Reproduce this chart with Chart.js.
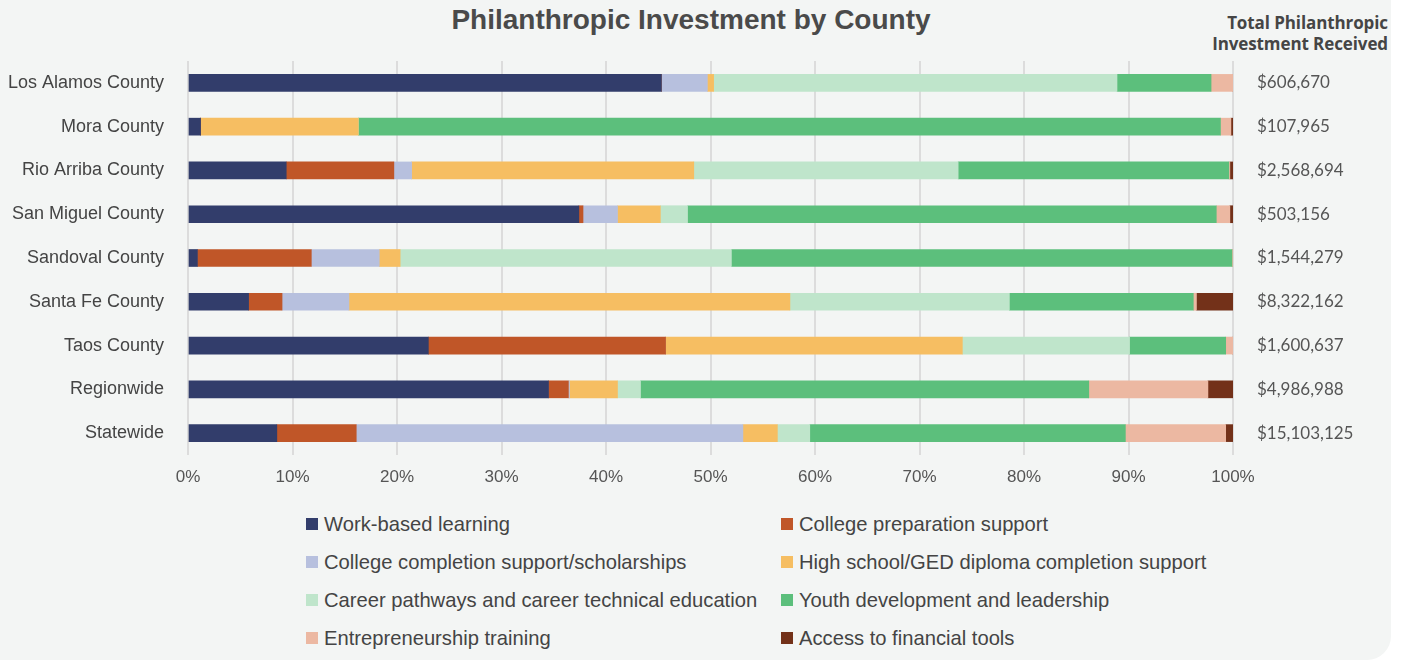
<!DOCTYPE html>
<html>
<head>
<meta charset="utf-8">
<script src="https://cdn.jsdelivr.net/npm/chart.js@4"></script>
<style>
  html, body { margin: 0; padding: 0; background: #ffffff; width: 1403px; height: 660px; overflow: hidden; }
  #panel { position: absolute; left: 0; top: 0; width: 1391px; height: 660px; background: #f3f5f4; border-bottom-right-radius: 24px; }
  #title { position: absolute; left: 0; width: 1382px; top: 0; text-align: center; font: bold 28px "Liberation Sans", Arial, sans-serif; color: #4a4a4a; line-height: 40px; }
  #header { position: absolute; right: 15px; top: 12px; text-align: right; font: bold 17px "Open Sans", sans-serif; color: #454545; line-height: 21px; letter-spacing: -0.1px; }
  #chartwrap { position: absolute; left: 0; top: 0; width: 1403px; height: 500px; }
  #legend { position: absolute; left: 306px; top: 505px; display: grid; grid-template-columns: 475px 475px; grid-auto-rows: 38px; }
  .li { display: flex; align-items: center; font: 20.2px "Liberation Sans", Arial, sans-serif; color: #444; white-space: nowrap; }
  .sw { width: 12px; height: 12px; margin-right: 6px; flex: none; }
</style>
</head>
<body>
<div id="panel"></div>
<div id="title">Philanthropic Investment by County</div>
<div id="header">Total Philanthropic<br>Investment Received</div>
<div id="chartwrap"><canvas id="c" width="1403" height="500"></canvas></div>
<div id="legend"></div>
<script>
const categories = ["Los Alamos County", "Mora County", "Rio Arriba County", "San Miguel County", "Sandoval County", "Santa Fe County", "Taos County", "Regionwide", "Statewide"];
const totals = ["$606,670", "$107,965", "$2,568,694", "$503,156", "$1,544,279", "$8,322,162", "$1,600,637", "$4,986,988", "$15,103,125"];
const tickValues = [0, 10, 20, 30, 40, 50, 60, 70, 80, 90, 100];

const seriesNames = ["Work-based learning", "College preparation support", "College completion support/scholarships", "High school/GED diploma completion support", "Career pathways and career technical education", "Youth development and leadership", "Entrepreneurship training", "Access to financial tools"];
const seriesColors = ["#323d6b", "#c05628", "#b7c0de", "#f6be62", "#bfe5cb", "#5cbf7c", "#ecb8a2", "#733119"];

const workBased       = [45.3, 1.2,  9.4, 37.4,  0.9,  5.8, 23.0, 34.5,  8.5];
const collegePrep     = [ 0.0, 0.0, 10.3,  0.4, 10.9,  3.2, 22.7,  1.9,  7.6];
const collegeComplete = [ 4.4, 0.0,  1.7,  3.3,  6.5,  6.4,  0.0,  0.1, 37.0];
const highSchoolGED   = [ 0.6, 15.1, 27.0, 4.1,  2.0, 42.2, 28.4,  4.6,  3.3];
const careerPathways  = [38.6, 0.0, 25.3,  2.6, 31.7, 21.0, 16.0,  2.2,  3.1];
const youthDev        = [ 9.0, 82.5, 25.9, 50.6, 47.9, 17.6, 9.2, 42.9, 30.2];
const entrepreneurship= [ 2.1, 1.0,  0.1,  1.3,  0.1,  0.3,  0.7, 11.4,  9.6];
const financialTools  = [ 0.0, 0.2,  0.3,  0.3,  0.0,  3.5,  0.0,  2.4,  0.7];

const seriesData = [workBased, collegePrep, collegeComplete, highSchoolGED, careerPathways, youthDev, entrepreneurship, financialTools];

const datasets = seriesNames.map((name, i) => ({
  label: name,
  data: seriesData[i],
  backgroundColor: seriesColors[i],
  borderWidth: 0,
  barThickness: 17
}));

const totalsPlugin = {
  id: 'totals',
  afterDraw(chart) {
    const ctx = chart.ctx;
    const y = chart.scales.y;
    ctx.save();
    ctx.font = '17px Lato, sans-serif';
    ctx.fillStyle = '#555555';
    ctx.textAlign = 'left';
    ctx.textBaseline = 'middle';
    totals.forEach((t, i) => {
      ctx.fillText(t, chart.chartArea.right + 24, y.getPixelForValue(i));
    });
    ctx.restore();
  }
};

new Chart(document.getElementById('c'), {
  type: 'bar',
  data: { labels: categories, datasets },
  plugins: [totalsPlugin],
  options: {
    indexAxis: 'y',
    responsive: false,
    animation: false,
    devicePixelRatio: 1,
    layout: { padding: { left: 0, right: 170, top: 61, bottom: 0 } },
    plugins: { legend: { display: false }, tooltip: { enabled: false }, title: { display: false } },
    scales: {
      x: {
        stacked: true,
        min: 0, max: 100,
        afterBuildTicks(scale) { scale.ticks = tickValues.map(v => ({ value: v })); },
        afterFit(scale) { scale.height = 45; },
        grid: { color: '#dcdcdc', lineWidth: 2, drawTicks: false },
        border: { display: false },
        ticks: {
          padding: 12,
          color: '#555555',
          font: { family: '"Liberation Sans", Arial, sans-serif', size: 17 },
          callback: v => v + '%'
        }
      },
      y: {
        stacked: true,
        afterFit(scale) { scale.width = 188; },
        grid: { display: false, drawTicks: false },
        border: { display: false },
        ticks: {
          padding: 24,
          color: '#444444',
          font: { family: '"Liberation Sans", Arial, sans-serif', size: 18 }
        }
      }
    }
  }
});

const legend = document.getElementById('legend');
seriesNames.forEach((name, i) => {
  const item = document.createElement('div');
  item.className = 'li';
  const sw = document.createElement('span');
  sw.className = 'sw';
  sw.style.background = seriesColors[i];
  item.appendChild(sw);
  item.appendChild(document.createTextNode(name));
  legend.appendChild(item);
});
</script>
</body>
</html>
